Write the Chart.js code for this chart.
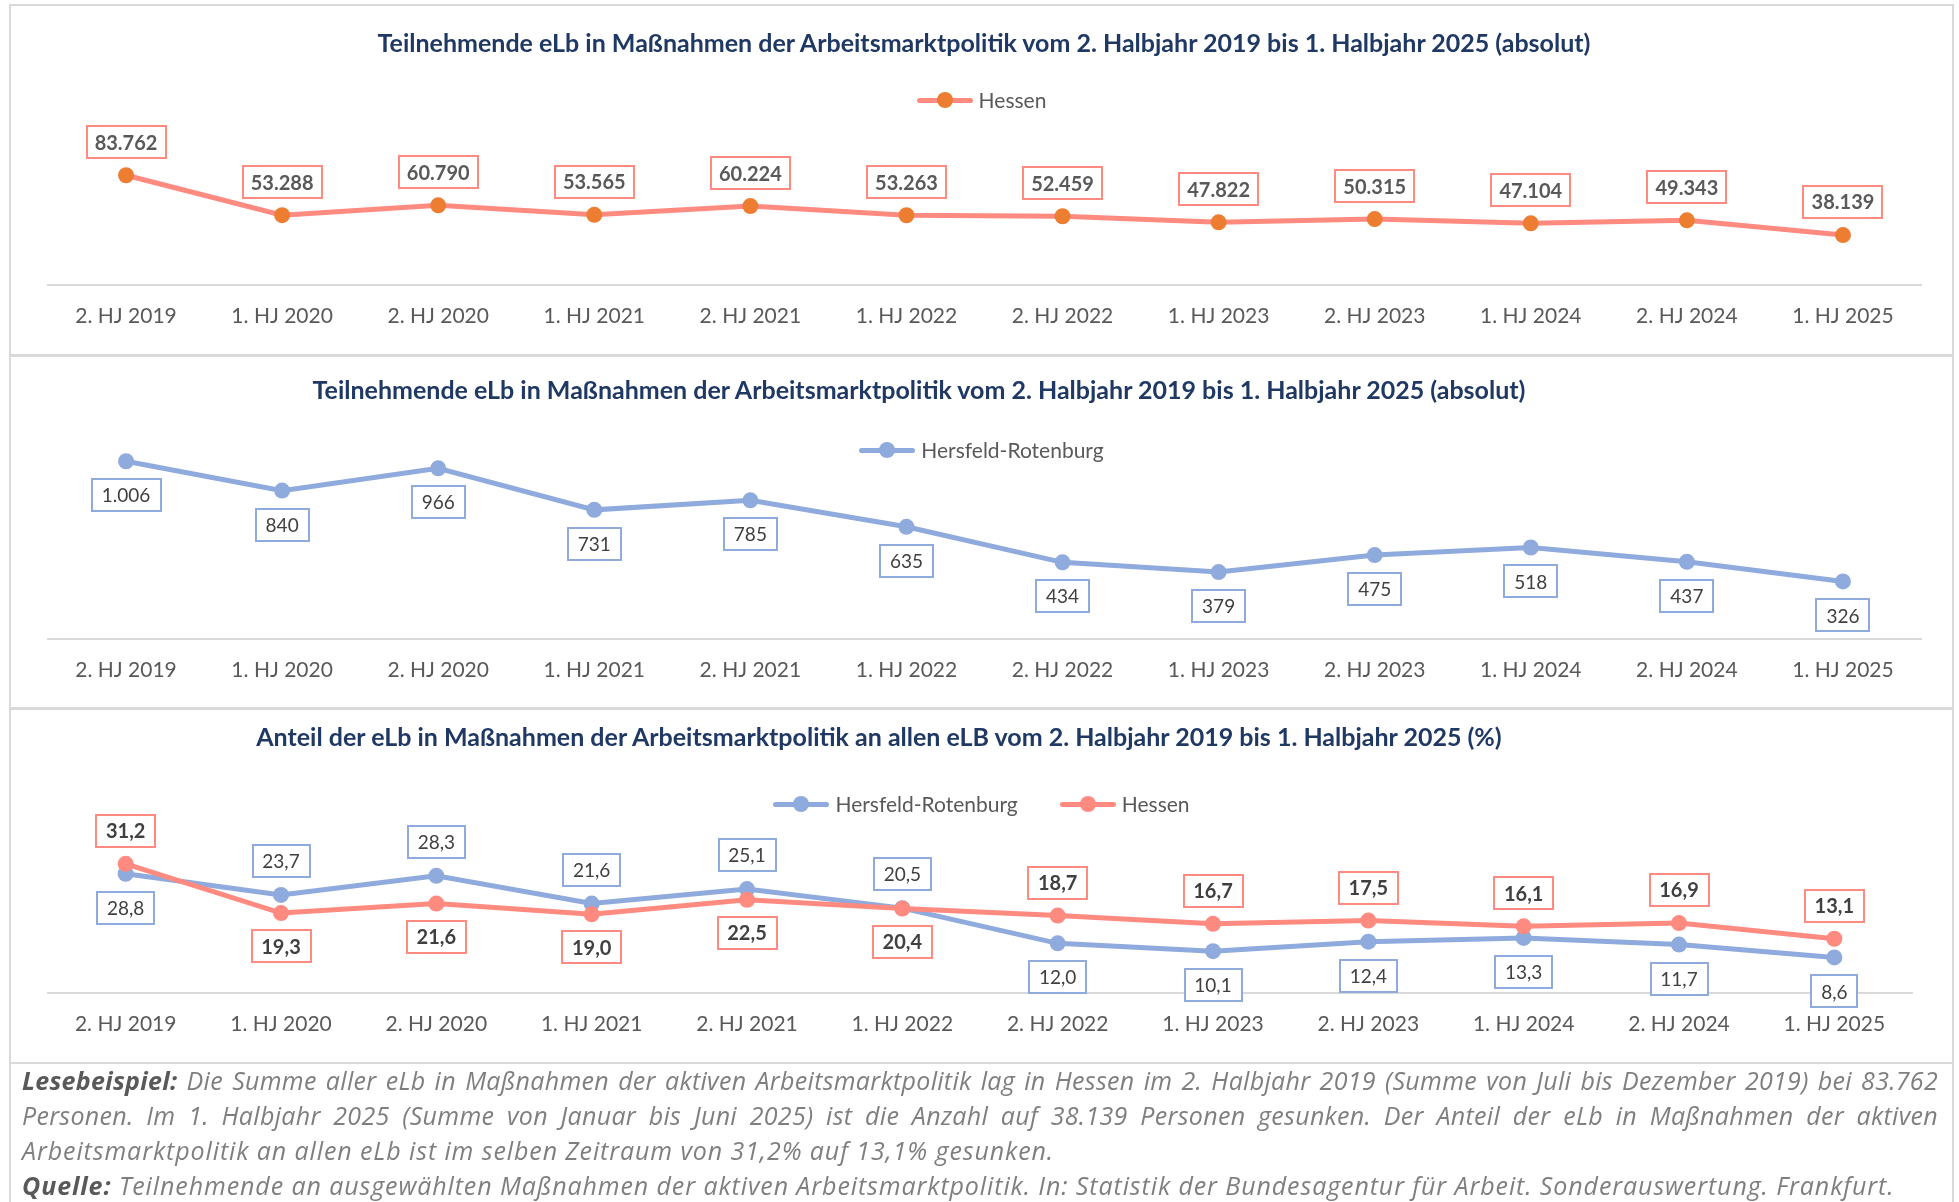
<!DOCTYPE html>
<html lang="de">
<head>
<meta charset="UTF-8">
<title>Teilnehmende eLb in Maßnahmen der Arbeitsmarktpolitik</title>
<style>
  body { margin: 0; width: 1959px; height: 1202px; overflow: hidden; background: #fff; font-family: Lato, sans-serif; position: relative; }
  .panel { position: absolute; left: 9px; width: 1945px; box-sizing: border-box; border: 2px solid #d9d9d9; }
  canvas { position: absolute; left: 9px; }
  .title { position: absolute; width: 1800px; margin-left: -900px; text-align: center; font-weight: 700; font-size: 25px; color: #1f3864; line-height: 30px; white-space: nowrap; }
  .legend { position: absolute; left: 9px; width: 1945px; display: flex; justify-content: center; gap: 42px; font-size: 21px; color: #595959; line-height: 24px; }
  .item { display: flex; align-items: center; gap: 6px; }
  .sw { position: relative; width: 56px; height: 16px; }
  .sw i { position: absolute; left: 0; right: 0; top: 5.5px; height: 5px; border-radius: 3px; }
  .sw b { position: absolute; left: 20px; top: 0; width: 16px; height: 16px; border-radius: 50%; }
  .notes { position: absolute; left: 9px; top: 1063px; width: 1945px; height: 160px; box-sizing: border-box; border-left: 2px solid #d9d9d9; border-right: 2px solid #d9d9d9; padding: 0 14px 0 11px; font-family: "Open Sans", sans-serif; font-style: italic; font-size: 25px; color: #7f7f7f; }
  .ln { height: 35px; line-height: 35px; white-space: nowrap; letter-spacing: 0.9px; }
  .ln.j { text-align: justify; text-align-last: justify; white-space: normal; overflow: hidden; letter-spacing: 0.3px; }
  .notes b { color: #595959; }
</style>
</head>
<body>
  <div class="panel" style="top:4px; height:352px"></div>
  <div class="panel" style="top:355px; height:354px"></div>
  <div class="panel" style="top:708px; height:356px"></div>

  <canvas id="chart_hessen_abs" width="1945" height="352" style="top:4px"></canvas>
  <canvas id="chart_hr_abs" width="1945" height="354" style="top:355px"></canvas>
  <canvas id="chart_share" width="1945" height="356" style="top:708px"></canvas>

  <div class="title" style="left:984px; top:27px">Teilnehmende eLb in Maßnahmen der Arbeitsmarktpolitik vom 2. Halbjahr 2019 bis 1. Halbjahr 2025 (absolut)</div>
  <div class="title" style="left:919px; top:374px">Teilnehmende eLb in Maßnahmen der Arbeitsmarktpolitik vom 2. Halbjahr 2019 bis 1. Halbjahr 2025 (absolut)</div>
  <div class="title" style="left:879px; top:721px">Anteil der eLb in Maßnahmen der Arbeitsmarktpolitik an allen eLB vom 2. Halbjahr 2019 bis 1. Halbjahr 2025 (%)</div>

  <div class="legend" style="top:88px">
    <span class="item"><span class="sw"><i style="background:#ff8a80"></i><b style="background:#ed7d31"></b></span>Hessen</span>
  </div>
  <div class="legend" style="top:438px">
    <span class="item"><span class="sw"><i style="background:#8faadc"></i><b style="background:#8faadc"></b></span>Hersfeld-Rotenburg</span>
  </div>
  <div class="legend" style="top:792px">
    <span class="item"><span class="sw"><i style="background:#8faadc"></i><b style="background:#8faadc"></b></span>Hersfeld-Rotenburg</span>
    <span class="item"><span class="sw"><i style="background:#ff8a80"></i><b style="background:#ff8a80"></b></span>Hessen</span>
  </div>

  <div class="notes">
    <div class="ln j"><b>Lesebeispiel:</b> Die Summe aller eLb in Maßnahmen der aktiven Arbeitsmarktpolitik lag in Hessen im 2. Halbjahr 2019 (Summe von Juli bis Dezember 2019) bei 83.762</div>
    <div class="ln j">Personen. Im 1. Halbjahr 2025 (Summe von Januar bis Juni 2025) ist die Anzahl auf 38.139 Personen gesunken. Der Anteil der eLb in Maßnahmen der aktiven</div>
    <div class="ln">Arbeitsmarktpolitik an allen eLb ist im selben Zeitraum von 31,2% auf 13,1% gesunken.</div>
    <div class="ln"><b>Quelle:</b> Teilnehmende an ausgewählten Maßnahmen der aktiven Arbeitsmarktpolitik. In: Statistik der Bundesagentur für Arbeit. Sonderauswertung. Frankfurt.</div>
  </div>

<script src="https://cdn.jsdelivr.net/npm/chart.js@4"></script>
<script>
    const categories = ['2. HJ 2019', '1. HJ 2020', '2. HJ 2020', '1. HJ 2021', '2. HJ 2021', '1. HJ 2022',
                        '2. HJ 2022', '1. HJ 2023', '2. HJ 2023', '1. HJ 2024', '2. HJ 2024', '1. HJ 2025'];

    const hessenAbs = [83762, 53288, 60790, 53565, 60224, 53263, 52459, 47822, 50315, 47104, 49343, 38139];
    const hrAbs = [1006, 840, 966, 731, 785, 635, 434, 379, 475, 518, 437, 326];

    const hrShare = [28.8, 23.7, 28.3, 21.6, 25.1, 20.5, 12.0, 10.1, 12.4, 13.3, 11.7, 8.6];
    const hessenShare = [31.2, 19.3, 21.6, 19.0, 22.5, 20.4, 18.7, 16.7, 17.5, 16.1, 16.9, 13.1];

    // where the value boxes sit in the share chart
    const hessenSharePlace = ['above', 'below', 'below', 'below', 'below', 'below', 'above', 'above', 'above', 'above', 'above', 'above'];
    const hrSharePlace = ['below', 'above', 'above', 'above', 'above', 'above', 'below', 'below', 'below', 'below', 'below', 'below'];

    const SALMON = '#ff8a80';
    const ORANGE = '#ed7d31';
    const BLUE = '#8faadc';

    // German number format: 83.762 / 31,2
    const fmtInt = v => String(v).replace(/\B(?=(\d{3})+(?!\d))/g, '.');
    const fmtDec = v => v.toFixed(1).replace('.', ',');

    Chart.defaults.font.family = 'Lato, sans-serif';

    // boxed value labels like the Excel data callouts
    const boxLabels = {
        id: 'boxLabels',
        afterDatasetsDraw(chart, args, opts) {
            const ctx = chart.ctx;
            (opts.sets || []).forEach(set => {
                const meta = chart.getDatasetMeta(set.dataset);
                const values = chart.data.datasets[set.dataset].data;
                ctx.save();
                ctx.font = (set.bold ? '700 ' : '400 ') + set.size + 'px Lato, sans-serif';
                ctx.textAlign = 'center';
                ctx.textBaseline = 'middle';
                meta.data.forEach((pt, i) => {
                    const text = set.format(values[i]);
                    const place = Array.isArray(set.place) ? set.place[i] : set.place;
                    const cy = pt.y + (place === 'above' ? -set.gap : set.gap);
                    const w = Math.round(ctx.measureText(text).width + 2 * set.padX);
                    const h = set.h;
                    const x0 = Math.round(pt.x - w / 2), y0 = Math.round(cy - h / 2);
                    ctx.fillStyle = '#fff';
                    ctx.fillRect(x0, y0, w, h);
                    ctx.strokeStyle = set.border;
                    ctx.lineWidth = 2;
                    ctx.strokeRect(x0, y0, w, h);
                    ctx.fillStyle = set.color;
                    ctx.fillText(text, pt.x, cy + 1);
                });
                ctx.restore();
            });
        }
    };

    function lineSet(label, data, line, dot) {
        return {
            label: label,
            data: data,
            borderColor: line,
            borderWidth: 5,
            backgroundColor: dot,
            pointBackgroundColor: dot,
            pointBorderWidth: 0,
            pointRadius: 8,
            pointHoverRadius: 8,
            tension: 0,
            clip: false
        };
    }

    function makeChart(id, datasets, yMax, padding, labelSets) {
        return new Chart(document.getElementById(id), {
            type: 'line',
            data: { labels: categories, datasets: datasets },
            options: {
                responsive: false,
                animation: false,
                events: [],
                layout: { padding: padding, autoPadding: false },
                plugins: {
                    legend: { display: false },
                    title: { display: false },
                    tooltip: { enabled: false },
                    boxLabels: { sets: labelSets }
                },
                scales: {
                    x: {
                        offset: true,
                        grid: { display: false, drawTicks: false },
                        border: { color: '#d9d9d9', width: 2 },
                        ticks: { color: '#595959', font: { size: 21 }, padding: 19, maxRotation: 0, autoSkip: false },
                        afterFit(scale) { scale.height = 50; }
                    },
                    y: { display: false, min: 0, max: yMax }
                }
            },
            plugins: [boxLabels]
        });
    }

    makeChart('chart_hessen_abs',
        [lineSet('Hessen', hessenAbs, SALMON, ORANGE)],
        100000,
        { top: 150, bottom: 21, left: 39, right: 33 },
        [{ dataset: 0, place: 'above', gap: 33, h: 32, padX: 8, size: 20, bold: true, color: '#595959', border: SALMON, format: fmtInt }]);

    makeChart('chart_hr_abs',
        [lineSet('Hersfeld-Rotenburg', hrAbs, BLUE, BLUE)],
        1200,
        { top: 72, bottom: 20, left: 39, right: 33 },
        [{ dataset: 0, place: 'below', gap: 34, h: 32, padX: 10, size: 19, bold: false, color: '#404040', border: BLUE, format: fmtInt }]);

    makeChart('chart_share',
        [lineSet('Hessen', hessenShare, SALMON, SALMON),
         lineSet('Hersfeld-Rotenburg', hrShare, BLUE, BLUE)],
        50,
        { top: 78, bottom: 21, left: 39, right: 42 },
        [{ dataset: 1, place: hrSharePlace, gap: 34, h: 32, padX: 10, size: 19, bold: false, color: '#404040', border: BLUE, format: fmtDec },
         { dataset: 0, place: hessenSharePlace, gap: 33, h: 32, padX: 10, size: 20, bold: true, color: '#404040', border: SALMON, format: fmtDec }]);
</script>
</body>
</html>
